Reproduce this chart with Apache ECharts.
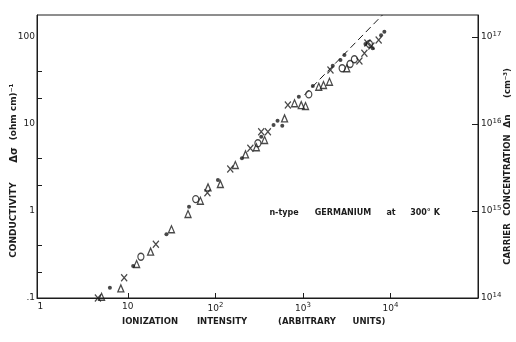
<!DOCTYPE html>
<html>
<head>
<meta charset="utf-8">
<script src="https://cdn.jsdelivr.net/npm/echarts@6/dist/echarts.min.js"></script>
<style>
  html, body { margin: 0; padding: 0; background: #fff; }
  #chart { width: 516px; height: 342px; }
</style>
</head>
<body>
<div id="chart"></div>
<script>
// Photoconductivity of n-type germanium vs. ionization intensity.
// Each point: [ionization intensity (arb. units), conductivity change (ohm cm)^-1]

const crossPts = [
  [4.55, 0.100], [9.08, 0.171], [20.9, 0.414], [81.1, 1.62], [148, 3.04],
  [251, 5.26], [334, 8.15], [398, 8.15], [673, 16.5], [2064, 41.8],
  [4420, 53.0], [5038, 65.0], [5454, 85.3], [6059, 78.8], [7332, 92.4]
];

const trianglePts = [
  [5.01, 0.1035], [8.32, 0.129], [12.6, 0.246], [18.2, 0.341], [31.5, 0.616],
  [48.7, 0.924], [67.4, 1.31], [82.4, 1.87], [114, 2.04], [169, 3.38],
  [221, 4.48], [294, 5.40], [365, 6.55], [617, 11.6], [802, 17.3],
  [957, 16.5], [1071, 16.1], [1518, 26.8], [1718, 28.1], [2011, 30.6],
  [3168, 43.7]
];

const circlePts = [
  [14.1, 0.298], [59.6, 1.37], [306, 6.00], [1167, 21.9], [2806, 43.7],
  [3459, 49.0], [3873, 55.4], [5744, 83.2]
];

const dotPts = [
  [6.24, 0.131], [11.5, 0.233], [27.6, 0.540], [50.0, 1.12], [107, 2.27],
  [201, 4.03], [334, 7.14], [462, 9.75], [513, 10.9], [581, 9.56],
  [898, 20.6], [1297, 27.4], [2193, 46.8], [2685, 54.4], [2981, 62.1],
  [5176, 83.2], [6267, 74.1], [7815, 105], [8517, 115]
];

// Reference trend line (dashed) through the high-intensity points
const trendLine = [[1040, 21.5], [8100, 179]];

// Axis ranges and tick values
const xRange = [0.917, 1e5];
const sigmaRange = [0.1, 179];
const nRange = [1e14, 1.79e17];
const xTickValues = [10, 100, 1000, 10000];
const xLabelValues = [1, 10, 100, 1000, 10000];
const sigmaTickValues = [0.2, 0.4, 2, 4, 20, 40];
const sigmaLabelValues = [0.1, 1, 10, 100];
const nTickValues = [1e15, 1e16, 1e17];
const nLabelValues = [1e14, 1e15, 1e16, 1e17];

const INK = '#1c1c1c';
const FONT = 'DejaVu Sans';

const exp10 = v => Math.round(Math.log10(v));

const chart = echarts.init(document.getElementById('chart'), null, { renderer: 'canvas' });

const markerStyle = { color: 'transparent', borderColor: INK, borderWidth: 1.3 };

function wordText(text, x, y, rotation, size) {
  return {
    type: 'text', x: x, y: y, rotation: rotation || 0,
    style: {
      text: text, fill: INK, font: 'bold ' + (size || 8.5) + 'px "' + FONT + '"',
      align: 'center', verticalAlign: 'middle'
    }
  };
}

chart.setOption({
  backgroundColor: '#fff',
  animation: false,
  grid: {
    left: 37, right: 38, top: 15, bottom: 44,
    show: true, borderColor: INK, borderWidth: 1, backgroundColor: 'transparent'
  },
  xAxis: {
    type: 'log', logBase: 10, min: xRange[0], max: xRange[1],
    axisLine: { show: true, lineStyle: { color: INK, width: 1 } },
    axisTick: { show: true, inside: true, length: 5, customValues: xTickValues, lineStyle: { color: INK } },
    axisLabel: {
      customValues: xLabelValues, margin: 4, color: INK,
      fontFamily: FONT, fontSize: 9,
      formatter: v => {
        const e = exp10(v);
        if (e === 0) return '1';
        if (e === 1) return '10';
        return '10{s|' + e + '}';
      },
      rich: { s: { fontSize: 7, fontFamily: FONT, color: INK, padding: [0, 0, 6, 0] } }
    },
    splitLine: { show: false }, minorTick: { show: false }
  },
  yAxis: [
    {
      type: 'log', logBase: 10, min: sigmaRange[0], max: sigmaRange[1], position: 'left',
      axisLine: { show: true, lineStyle: { color: INK, width: 1 } },
      axisTick: { show: true, inside: true, length: 5, customValues: sigmaTickValues, lineStyle: { color: INK } },
      axisLabel: {
        customValues: sigmaLabelValues, margin: 2, color: INK,
        fontFamily: FONT, fontSize: 9,
        formatter: v => {
          const e = exp10(v);
          return e < 0 ? '.1' : String(Math.pow(10, e));
        }
      },
      splitLine: { show: false }
    },
    {
      type: 'log', logBase: 10, min: nRange[0], max: nRange[1], position: 'right',
      axisLine: { show: true, lineStyle: { color: INK, width: 1 } },
      axisTick: { show: true, inside: true, length: 6, customValues: nTickValues, lineStyle: { color: INK } },
      axisLabel: {
        customValues: nLabelValues, margin: 3, color: INK,
        fontFamily: FONT, fontSize: 9,
        formatter: v => '10{s|' + exp10(v) + '}',
        rich: { s: { fontSize: 7, fontFamily: FONT, color: INK, padding: [0, 0, 6, 0] } }
      },
      splitLine: { show: false }
    }
  ],
  series: [
    {
      name: 'trend', type: 'line', data: trendLine, symbol: 'none',
      lineStyle: { color: INK, width: 1, type: [7, 4] }, silent: true
    },
    {
      name: 'cross', type: 'scatter', data: crossPts,
      symbol: 'path://M0,0L10,12M10,0L0,12', symbolSize: [6, 7],
      itemStyle: markerStyle
    },
    {
      name: 'triangle', type: 'scatter', data: trianglePts,
      symbol: 'triangle', symbolSize: [6, 7],
      itemStyle: markerStyle
    },
    {
      name: 'circle', type: 'scatter', data: circlePts,
      symbol: 'circle', symbolSize: [6, 7],
      itemStyle: markerStyle
    },
    {
      name: 'dot', type: 'scatter', data: dotPts,
      symbol: 'circle', symbolSize: 4,
      itemStyle: { color: INK }
    }
  ],
  graphic: [
    // x-axis title
    wordText('IONIZATION', 150, 322),
    wordText('INTENSITY', 222, 322),
    wordText('(ARBITRARY', 307, 322),
    wordText('UNITS)', 369, 322),
    // left axis title (reads bottom to top)
    wordText('CONDUCTIVITY', 14, 220, Math.PI / 2, 9),
    wordText('Δσ', 14, 155, Math.PI / 2, 10),
    wordText('(ohm cm)⁻¹', 14, 112, Math.PI / 2, 9),
    // right axis title
    wordText('CARRIER', 508, 244, Math.PI / 2, 8.5),
    wordText('CONCENTRATION', 508, 175, Math.PI / 2, 8.5),
    wordText('Δn', 508, 121, Math.PI / 2, 9),
    wordText('(cm⁻³)', 508, 83, Math.PI / 2, 8.5),
    // in-plot annotation
    wordText('n-type', 284, 213, 0, 8),
    wordText('GERMANIUM', 343, 213, 0, 8),
    wordText('at', 391, 213, 0, 8),
    wordText('300° K', 425, 213, 0, 8)
  ]
});
</script>
</body>
</html>
